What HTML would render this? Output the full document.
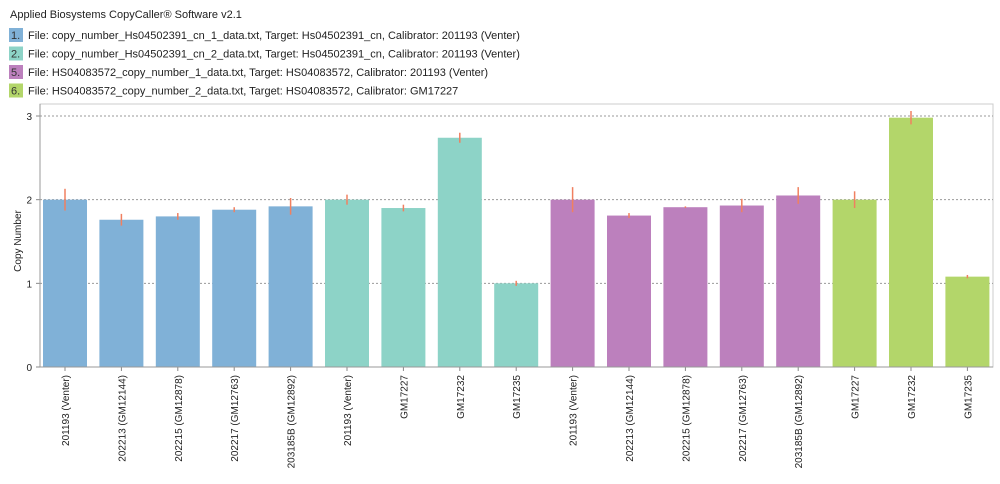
<!DOCTYPE html>
<html><head><meta charset="utf-8"><style>
body{margin:0;background:#fff;font-family:"Liberation Sans",Arial,sans-serif;}
</style></head><body>
<svg id="c" width="1000" height="479" xmlns="http://www.w3.org/2000/svg" font-family="Liberation Sans, Arial, sans-serif">
<text x="10" y="18" font-size="11" fill="#222">Applied Biosystems CopyCaller® Software v2.1</text>
<g id="legend"></g>
<g id="plot"></g>
</svg>
<script>
const categories=["201193 (Venter)","202213 (GM12144)","202215 (GM12878)","202217 (GM12763)","203185B (GM12892)","201193 (Venter)","GM17227","GM17232","GM17235","201193 (Venter)","202213 (GM12144)","202215 (GM12878)","202217 (GM12763)","203185B (GM12892)","GM17227","GM17232","GM17235"];
const values=[2.0,1.76,1.80,1.88,1.92,2.0,1.90,2.74,1.0,2.0,1.81,1.91,1.93,2.05,2.0,2.98,1.08];
const errors=[0.13,0.07,0.04,0.03,0.1,0.06,0.04,0.06,0.03,0.15,0.03,0.01,0.08,0.1,0.1,0.08,0.02];
const groups=[0,0,0,0,0,1,1,1,1,2,2,2,2,2,3,3,3];
const legendNums=["1.","2.","5.","6."];
const legendLabels=["File: copy_number_Hs04502391_cn_1_data.txt, Target: Hs04502391_cn, Calibrator: 201193 (Venter)","File: copy_number_Hs04502391_cn_2_data.txt, Target: Hs04502391_cn, Calibrator: 201193 (Venter)","File: HS04083572_copy_number_1_data.txt, Target: HS04083572, Calibrator: 201193 (Venter)","File: HS04083572_copy_number_2_data.txt, Target: HS04083572, Calibrator: GM17227"];
const yTicks=[0,1,2,3];
const colors=["#80b1d7","#8dd3c7","#bc80bd","#b3d66a"];
const NS="http://www.w3.org/2000/svg";
function mk(p,t,a){const e=document.createElementNS(NS,t);for(const k in a)e.setAttribute(k,a[k]);p.appendChild(e);return e;}
const X0=40,X1=993,Y0=367,Y3=116;
const y=v=>Y0-(Y0-Y3)*v/3;
const slot=56.4;
const xc=i=>65+i*slot;
const lg=document.getElementById('legend');
legendLabels.forEach((l,i)=>{
 const yy=28+i*18.5;
 const r=mk(lg,'rect',{x:9,y:yy,width:14,height:14,fill:colors[i]});
 
 
 const n=mk(lg,'text',{x:11,y:yy+11,'font-size':11,fill:'#333'});n.textContent=legendNums[i];
 
 
 const t=mk(lg,'text',{x:28,y:yy+11,'font-size':11,fill:'#222'});t.textContent=l;
 
 
});
const p=document.getElementById('plot');
const fr=mk(p,'rect',{x:X0,y:104,width:X1-X0,height:Y0-104,fill:'none',stroke:'#ccc'});


yTicks.forEach(v=>{
 if(v>0){const g=mk(p,'line',{x1:X0,x2:X1,y1:y(v),y2:y(v),stroke:'#999','stroke-dasharray':'2,2'});
 
 }
 const tk=mk(p,'line',{x1:X0-4,x2:X0,y1:y(v),y2:y(v),stroke:'#888'});
 
 
 const t=mk(p,'text',{x:X0-8,y:y(v)+4,'font-size':10,'text-anchor':'end',fill:'#222'});t.textContent=v;
 
 
});
const yt=mk(p,'text',{transform:'translate(21,241) rotate(-90)','font-size':10,'text-anchor':'middle',fill:'#222'});yt.textContent='Copy Number';


values.forEach((v,i)=>{
 const c=xc(i);
 const b=mk(p,'rect',{x:c-22,y:y(v),width:44,height:Y0-y(v),fill:colors[groups[i]]});
 
 
 const e=mk(p,'line',{x1:c,x2:c,y1:y(v+errors[i]),y2:y(v-errors[i]),stroke:'#f08060','stroke-width':1.5});
 
 
 const tk=mk(p,'line',{x1:c,x2:c,y1:Y0,y2:Y0+4,stroke:'#888'});
 
 
 const t=mk(p,'text',{transform:`translate(${c+4},${Y0+8}) rotate(-90)`,'font-size':10,'text-anchor':'end',fill:'#222'});t.textContent=categories[i];
 
 
});
const ax=mk(p,'line',{x1:X0,x2:X1,y1:Y0,y2:Y0,stroke:'#999'});


const ay=mk(p,'line',{x1:X0,x2:X0,y1:104,y2:Y0,stroke:'#999'});


</script>
</body></html>
